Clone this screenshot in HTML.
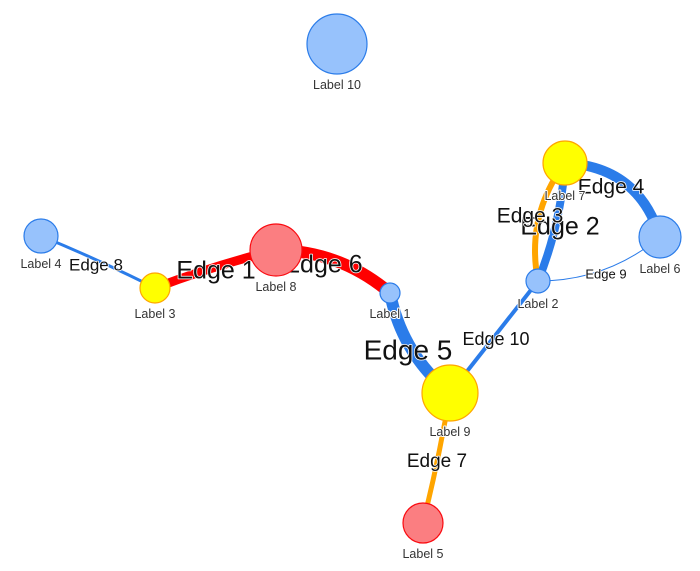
<!DOCTYPE html>
<html><head><meta charset="utf-8">
<style>
html,body{margin:0;padding:0;background:#fff;}
svg{display:block;}
text{font-family:"Liberation Sans",Arial,sans-serif;paint-order:stroke;stroke:#fff;stroke-linejoin:round;}
</style></head>
<body>
<svg id="net" width="700" height="571" viewBox="0 0 700 571" xmlns="http://www.w3.org/2000/svg">
<g id="edges"></g>
<g id="edgeLabels"></g>
<g id="nodes"></g>
</svg>
<script>
// Node data
const nodeIds = [1,2,3,4,5,6,7,8,9,10];
const nodeLabels = ["Label 1","Label 2","Label 3","Label 4","Label 5","Label 6","Label 7","Label 8","Label 9","Label 10"];
const nodeX = [390,538,155,41,423,660,565,276,450,337];
const nodeY = [293,281,288,236,523,237,163,250,393,44];
const nodeValues = [10,12,15,17,20,21,22,26,28,30];
const nodeGroups = ["blue","blue","yellow","blue","red","blue","yellow","red","yellow","blue"];
// Edge data
const edgeLabels = ["Edge 1","Edge 2","Edge 3","Edge 4","Edge 5","Edge 6","Edge 7","Edge 8","Edge 9","Edge 10"];
const edgeFrom = [3,2,2,7,1,8,9,4,2,9];
const edgeTo = [8,7,7,6,9,1,5,3,6,2];
const edgeWidths = [9,8,6,10,12,12,5,3,1,4];
const edgeColors = ["red","blue","orange","blue","blue","red","orange","blue","blue","blue"];
const edgeBend = [0.03,-0.08,0.22,0.35,-0.18,0.18,0.02,0.02,-0.18,0.0];
const edgeFont = [25,25,21,21,28,25,19,17,13,18];
const edgeLabelPos = [[216,272],[560,228],[530,217],[611,188],[408,352],[323,266],[437,462],[96,266],[606,275],[496,340]];

const palette={blue:["#97c2fc","#2b7ce9"],yellow:["#ffff00","#ffa500"],red:["#fb7e81","#fa0a10"]};
const edgeColor={red:"#ff0000",blue:"#2b7ce9",orange:"#ffa500"};
const NS="http://www.w3.org/2000/svg";
const gE=document.getElementById('edges'),gL=document.getElementById('edgeLabels'),gN=document.getElementById('nodes');
function idx(id){return nodeIds.indexOf(id);}
edgeLabels.forEach((lab,i)=>{
  const a=idx(edgeFrom[i]),b=idx(edgeTo[i]);
  const x1=nodeX[a],y1=nodeY[a],x2=nodeX[b],y2=nodeY[b];
  const mx=(x1+x2)/2,my=(y1+y2)/2,dx=x2-x1,dy=y2-y1;
  const cx=mx+dy*edgeBend[i],cy=my-dx*edgeBend[i];
  const p=document.createElementNS(NS,'path');
  p.setAttribute('d',`M${x1},${y1} Q${cx},${cy} ${x2},${y2}`);
  p.setAttribute('fill','none');
  p.setAttribute('stroke',edgeColor[edgeColors[i]]);
  p.setAttribute('stroke-width',edgeWidths[i]);
  
  
  gE.appendChild(p);
  const t=document.createElementNS(NS,'text');
  t.setAttribute('x',edgeLabelPos[i][0]);t.setAttribute('y',edgeLabelPos[i][1]);
  t.setAttribute('text-anchor','middle');t.setAttribute('dominant-baseline','middle');
  t.setAttribute('font-size',edgeFont[i]);t.setAttribute('fill','#111');
  t.setAttribute('stroke-width',1.5);
  t.textContent=lab;
  
  
  gL.appendChild(t);
});
nodeIds.forEach((id,i)=>{
  const c=document.createElementNS(NS,'circle');
  const col=palette[nodeGroups[i]];
  c.setAttribute('cx',nodeX[i]);c.setAttribute('cy',nodeY[i]);c.setAttribute('r',nodeValues[i]);
  c.setAttribute('fill',col[0]);c.setAttribute('stroke',col[1]);c.setAttribute('stroke-width',1.2);
  
  
  gN.appendChild(c);
  const t=document.createElementNS(NS,'text');
  t.setAttribute('x',nodeX[i]);t.setAttribute('y',nodeY[i]+nodeValues[i]+15);
  t.setAttribute('text-anchor','middle');t.setAttribute('font-size',12.5);t.setAttribute('fill','#343434');
  t.setAttribute('stroke-width',2);
  t.textContent=nodeLabels[i];
  
  
  gN.appendChild(t);
});
</script>
</body></html>
